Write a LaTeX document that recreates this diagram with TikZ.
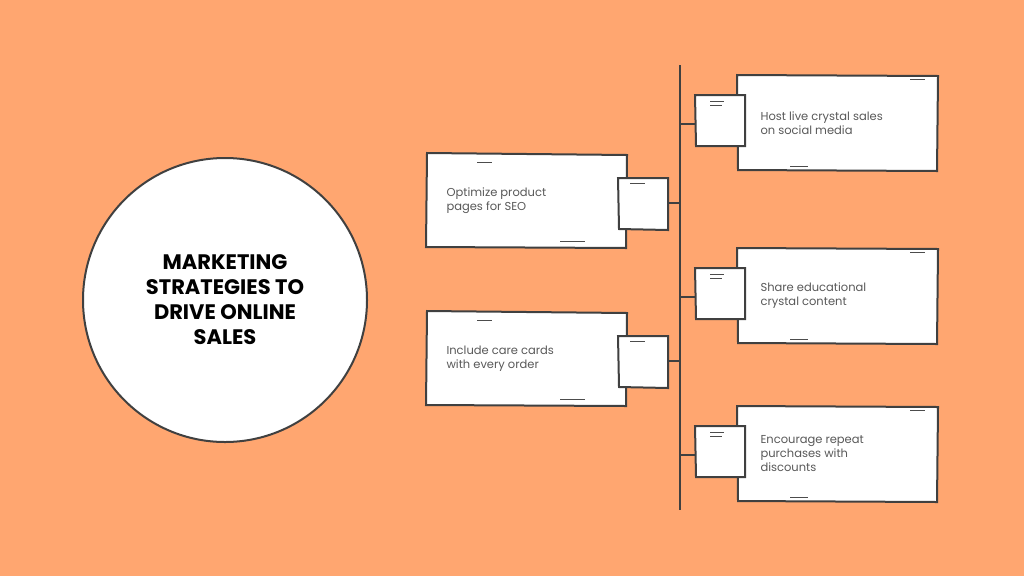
\documentclass[tikz,border=0pt]{standalone}
\usepackage{fontspec}
\setmainfont{Poppins}
\begin{document}
\begin{tikzpicture}[x=1pt,y=-1pt,
  ln/.style={draw=black!75,line width=2pt},
  box/.style={ln,fill=white},
  sq/.style={ln,fill=white},
  txt/.style={text=black!65,font=\fontsize{11.5}{14}\selectfont,align=left,anchor=west},
  scribble/.style={draw=black!70,line width=0.9pt}]
\fill[fill={rgb,255:red,255;green,166;blue,112}] (0,0) rectangle (1024,576);
\useasboundingbox (0,0) rectangle (1024,576);
\node[circle,ln,fill=white,minimum size=284pt,inner sep=0pt,align=center,font=\bfseries\fontsize{21}{25}\selectfont] (c) at (225,300) {MARKETING\\STRATEGIES TO\\DRIVE ONLINE\\SALES};
\coordinate (top) at (680,65); \coordinate (bot) at (680,510);
\draw[ln] (top) -- (bot);
% right boxes
\foreach \n/\y/\t in {r1/75/{Host live crystal sales\\on social media},r2/248/{Share educational\\crystal content},r3/406/{Encourage repeat\\purchases with\\discounts}}{
  \draw[box] (737,\y) -- (938,\y+1) -- (937,\y+96) -- (738,\y+95) -- cycle;
  \node[txt] at (757,\y+48) {\t};
  \draw[scribble] (910,\y+4) -- (925,\y+4);
  \draw[scribble] (790,\y+91) -- (808,\y+91);
  \draw[sq] (695,\y+20) -- (745,\y+20) -- (745,\y+71) -- (696,\y+71) -- cycle;
  \draw[scribble] (710,\y+26) -- (724,\y+26);
  \draw[scribble] (710,\y+30) -- (722,\y+30);
  \draw[ln] (680,\y+49) -- (695,\y+49);
}
% left boxes
\foreach \n/\y/\t in {l1/153/{Optimize product\\pages for SEO},l2/311/{Include care cards\\with every order}}{
  \draw[box] (427,\y) -- (627,\y+2) -- (626,\y+95) -- (426,\y+94) -- cycle;
  \node[txt] at (443,\y+48) {\t};
  \draw[scribble] (477,\y+9) -- (492,\y+9);
  \draw[scribble] (560,\y+88) -- (585,\y+88);
  \draw[sq] (618,\y+25) -- (668,\y+25) -- (668,\y+77) -- (619,\y+76) -- cycle;
  \draw[scribble] (630,\y+30) -- (645,\y+30);
  \draw[ln] (668,\y+50) -- (680,\y+50);
}
\end{tikzpicture}
\end{document}
